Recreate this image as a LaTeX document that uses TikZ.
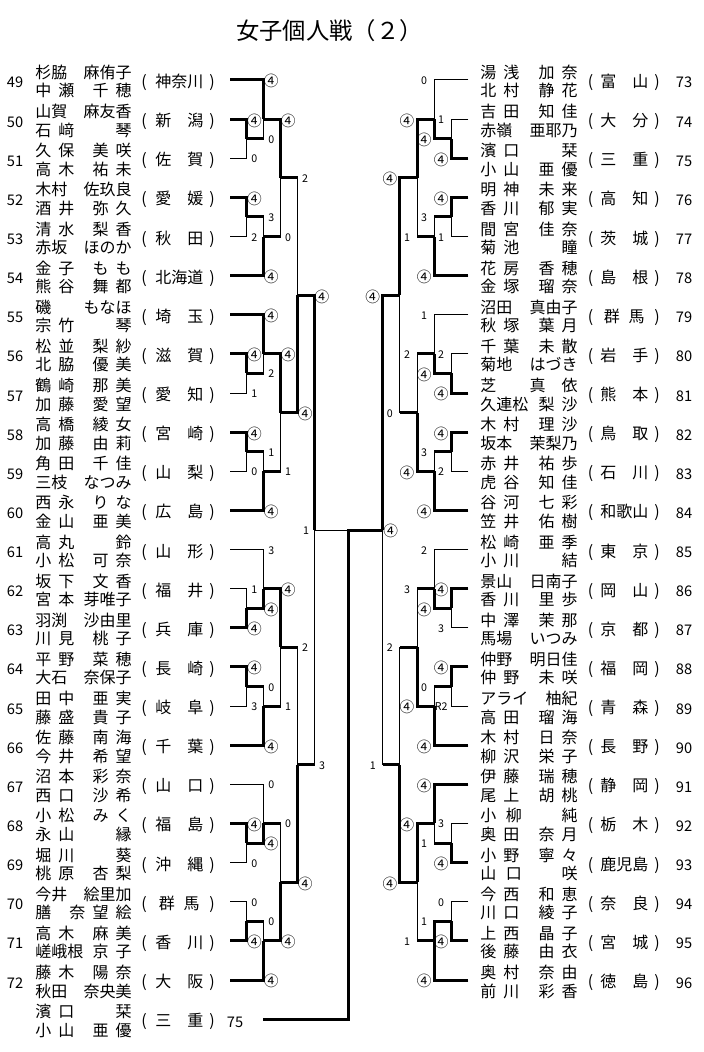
\documentclass[tikz,border=0pt]{standalone}
\usepackage{fontspec}
\setmainfont{Noto Sans CJK JP}
\newcommand\namefont{\fontsize{12}{12}\selectfont\spaceskip=.45em\relax}
\newcommand\ci{\raisebox{-1.8pt}{\fontsize{11}{11}\selectfont ④}}
\begin{document}
\begin{tikzpicture}[x=0.75pt,y=-0.75pt,
    declare function={ry(\x)=80+19.565*\x; lx(\x)=230+16.9*\x; rx(\x)=468.3-17.1*\x;},
    lose/.style={line width=0.75pt},
    win/.style={line width=2.25pt,line cap=square},
    nm/.style={inner sep=0pt,font=\namefont},
    num/.style={inner sep=0pt,anchor=base,font=\fontsize{11}{11}\selectfont},
    sc/.style={inner sep=0pt,anchor=base,font=\fontsize{8}{8}\selectfont}]
\useasboundingbox (0,0) rectangle (703,1052);
\fill[white] (0,0) rectangle (703,1052);
\node[inner sep=0pt,anchor=base west,font=\fontsize{17.5}{17.5}\selectfont] (title) at (236,40) {女子個人戦（２）};

% left entries
\foreach \n/\sa/\ga/\sb/\gb/\p [count=\k from 0] in {
    49/杉脇/麻侑子/中 瀬/千 穂/神奈川,
    50/山賀/麻友香/石 﨑/琴/新\hfill 潟,
    51/久 保/美 咲/高 木/祐 未/佐\hfill 賀,
    52/木村/佐玖良/酒 井/弥 久/愛\hfill 媛,
    53/清 水/梨 香/赤坂/ほのか/秋\hfill 田,
    54/金 子/も も/熊 谷/舞 都/北海道,
    55/磯/もなほ/宗 竹/琴/埼\hfill 玉,
    56/松 並/梨 紗/北 脇/優 美/滋\hfill 賀,
    57/鶴 崎/那 美/加 藤/愛 望/愛\hfill 知,
    58/高 橋/綾 女/加 藤/由 莉/宮\hfill 崎,
    59/角 田/千 佳/三枝/なつみ/山\hfill 梨,
    60/西 永/り な/金 山/亜 美/広\hfill 島,
    61/高 丸/鈴/小 松/可 奈/山\hfill 形,
    62/坂 下/文 香/宮 本/芽唯子/福\hfill 井,
    63/羽渕/沙由里/川 見/桃 子/兵\hfill 庫,
    64/平 野/菜 穂/大石/奈保子/長\hfill 崎,
    65/田 中/亜 実/藤 盛/貴 子/岐\hfill 阜,
    66/佐 藤/南 海/今 井/希 望/千\hfill 葉,
    67/沼 本/彩 奈/西 口/沙 希/山\hfill 口,
    68/小 松/み く/永 山/縁/福\hfill 島,
    69/堀 川/葵/桃 原/杏 梨/沖\hfill 縄,
    70/今井/絵里加/膳/奈 望 絵/\hfill 群\hspace{.55em}馬\hfill,
    71/高 木/麻 美/嵯峨根/京 子/香\hfill 川,
    72/藤 木/陽 奈/秋田/奈央美/大\hfill 阪}{
  \pgfmathsetmacro\yy{ry(2*\k)}
  \node[num] (n\n) at (15,\yy+8) {\n};
  \node[nm,anchor=base west] (sa\n) at (35,\yy-1.5) {\sa};
  \node[nm,anchor=base east] (ga\n) at (132,\yy-1.5) {\ga};
  \node[nm,anchor=base west] (sb\n) at (35,\yy+17) {\sb};
  \node[nm,anchor=base east] (gb\n) at (132,\yy+17) {\gb};
  \node[nm,anchor=base] (po\n) at (144,\yy+7.5) {(};
  \node[nm,anchor=base west] (p\n) at (155,\yy+7.5) {\makebox[3em][s]{\p}};
  \node[nm,anchor=base] (pc\n) at (212,\yy+7.5) {)};
}
\node[nm,anchor=base west] (csa) at (35,{ry(48)-1.5}) {濱 口};
\node[nm,anchor=base east] (cga) at (132,{ry(48)-1.5}) {栞};
\node[nm,anchor=base west] (csb) at (35,{ry(48)+17}) {小 山};
\node[nm,anchor=base east] (cgb) at (132,{ry(48)+17}) {亜 優};
\node[nm,anchor=base] (cpo) at (144,{ry(48)+7.5}) {(};
\node[nm,anchor=base west] (cp) at (155,{ry(48)+7.5}) {\makebox[3em][s]{三\hfill 重}};
\node[nm,anchor=base] (cpc) at (212,{ry(48)+7.5}) {)};
\node[num] (cn) at (235,{ry(48)+8}) {75};

% right entries
\foreach \n/\sa/\ga/\sb/\gb/\p [count=\k from 0] in {
    73/湯 浅/加 奈/北 村/静 花/富\hfill 山,
    74/吉 田/知 佳/赤嶺/亜耶乃/大\hfill 分,
    75/濱 口/栞/小 山/亜 優/三\hfill 重,
    76/明 神/未 来/香 川/郁 実/高\hfill 知,
    77/間 宮/佳 奈/菊 池/瞳/茨\hfill 城,
    78/花 房/香 穂/金 塚/瑠 奈/島\hfill 根,
    79/沼田/真由子/秋 塚/葉 月/\hfill 群\hspace{.55em}馬\hfill,
    80/千 葉/未 散/菊地/はづき/岩\hfill 手,
    81/芝/真　依/久連松/梨 沙/熊\hfill 本,
    82/木 村/理 沙/坂本/茉梨乃/鳥\hfill 取,
    83/赤 井/祐 歩/虎 谷/知 佳/石\hfill 川,
    84/谷 河/七 彩/笠 井/佑 樹/和歌山,
    85/松 崎/亜 季/小 川/結/東\hfill 京,
    86/景山/日南子/香 川/里 歩/岡\hfill 山,
    87/中 澤/茉 那/馬場/いつみ/京\hfill 都,
    88/仲野/明日佳/仲 野/未 咲/福\hfill 岡,
    89/アライ/柚紀/高 田/瑠 海/青\hfill 森,
    90/木 村/日 奈/柳 沢/栄 子/長\hfill 野,
    91/伊 藤/瑞 穂/尾 上/胡 桃/静\hfill 岡,
    92/小\hspace{.6em}柳/純/奥 田/奈 月/栃\hfill 木,
    93/小 野/寧 々/山\hspace{.6em}口/咲/鹿児島,
    94/今 西/和 恵/川 口/綾 子/奈\hfill 良,
    95/上 西/晶 子/後 藤/由 衣/宮\hfill 城,
    96/奥 村/奈 由/前 川/彩 香/徳\hfill 島}{
  \pgfmathsetmacro\yy{ry(2*\k)}
  \node[num] (n\n) at (684,\yy+8) {\n};
  \node[nm,anchor=base west] (sa\n) at (480,\yy-1.5) {\sa};
  \node[nm,anchor=base east] (ga\n) at (578,\yy-1.5) {\ga};
  \node[nm,anchor=base west] (sb\n) at (480,\yy+17) {\sb};
  \node[nm,anchor=base east] (gb\n) at (578,\yy+17) {\gb};
  \node[nm,anchor=base] (po\n) at (590.5,\yy+7.5) {(};
  \node[nm,anchor=base west] (p\n) at (600,\yy+7.5) {\makebox[3em][s]{\p}};
  \node[nm,anchor=base] (pc\n) at (657,\yy+7.5) {)};
}

% left bracket
\foreach \cf/\rr/\ct/\rj/\ww/\lab [count=\i] in {
    0/2/1/3/2/\ci, 0/4/1/3/0/0, 0/0/2/2/2/\ci, 1/3/2/2/1/0,
    0/6/1/7/2/\ci, 0/8/1/7/0/2, 1/7/2/8/1/3, 0/10/2/8/2/\ci,
    2/2/3/5/2/\ci, 2/8/3/5/1/0,
    0/14/1/15/2/\ci, 0/16/1/15/0/1, 0/12/2/14/2/\ci, 1/15/2/14/1/2,
    0/18/1/19/2/\ci, 0/20/1/19/0/0, 1/19/2/20/1/1, 0/22/2/20/2/\ci,
    2/14/3/17/2/\ci, 2/20/3/17/1/1,
    3/5/4/11/1/2, 3/17/4/11/2/\ci,
    0/26/1/27/0/1, 0/28/1/27/2/\ci, 0/24/2/26/0/3, 1/27/2/26/2/\ci,
    0/30/1/31/2/\ci, 0/32/1/31/0/3, 1/31/2/32/1/0, 0/34/2/32/2/\ci,
    2/26/3/29/2/\ci, 2/32/3/29/1/1,
    0/38/1/39/2/\ci, 0/40/1/39/0/0, 0/36/2/38/0/0, 1/39/2/38/2/\ci,
    0/42/1/43/0/0, 0/44/1/43/2/\ci, 1/43/2/44/1/0, 0/46/2/44/2/\ci,
    2/38/3/41/1/0, 2/44/3/41/2/\ci,
    3/29/4/35/1/2, 3/41/4/35/2/\ci,
    4/11/5/23/2/\ci, 4/35/5/23/1/3}{
  \draw[lose] ({lx(\cf)},{ry(\rr)}) -| ({lx(\ct)},{ry(\rj)});
  \ifnum\ww=1 \draw[win] ({lx(\cf)},{ry(\rr)}) -- ({lx(\ct)},{ry(\rr)}); \fi
  \ifnum\ww=2 \draw[win] ({lx(\cf)},{ry(\rr)}) -| ({lx(\ct)},{ry(\rj)}); \fi
  \node[sc] (ls\i) at ({lx(\ct)+7.5},{ry(\rr)+4.5}) {\lab};
}

% right bracket
\foreach \cf/\rr/\ct/\rj/\ww/\lab [count=\i] in {
    0/2/1/3/0/1, 0/4/1/3/2/\ci, 0/0/2/2/0/0, 1/3/2/2/2/\ci,
    0/6/1/7/2/\ci, 0/8/1/7/0/1, 1/7/2/8/1/3, 0/10/2/8/2/\ci,
    2/2/3/5/2/\ci, 2/8/3/5/1/1,
    0/14/1/15/0/2, 0/16/1/15/2/\ci, 0/12/2/14/0/1, 1/15/2/14/2/\ci,
    0/18/1/19/2/\ci, 0/20/1/19/0/2, 1/19/2/20/1/3, 0/22/2/20/2/\ci,
    2/14/3/17/1/2, 2/20/3/17/2/\ci,
    3/5/4/11/2/\ci, 3/17/4/11/1/0,
    0/26/1/27/2/\ci, 0/28/1/27/0/3, 0/24/2/26/0/2, 1/27/2/26/2/\ci,
    0/30/1/31/2/\ci, 0/32/1/31/0/R2, 1/31/2/32/1/0, 0/34/2/32/2/\ci,
    2/26/3/29/1/3, 2/32/3/29/2/\ci,
    0/38/1/39/0/3, 0/40/1/39/2/\ci, 0/36/2/38/2/\ci, 1/39/2/38/1/1,
    0/42/1/43/0/0, 0/44/1/43/2/\ci, 1/43/2/44/2/1, 0/46/2/44/2/\ci,
    2/38/3/41/2/\ci, 2/44/3/41/1/1,
    3/29/4/35/1/2, 3/41/4/35/2/\ci,
    4/11/5/23/2/\ci, 4/35/5/23/1/1}{
  \draw[lose] ({rx(\cf)},{ry(\rr)}) -| ({rx(\ct)},{ry(\rj)});
  \ifnum\ww=1 \draw[win] ({rx(\cf)},{ry(\rr)}) -- ({rx(\ct)},{ry(\rr)}); \fi
  \ifnum\ww=2 \draw[win] ({rx(\cf)},{ry(\rr)}) -| ({rx(\ct)},{ry(\rj)}); \fi
  \node[sc] (rs\i) at ({rx(\ct)-10},{ry(\rr)+4.5}) {\lab};
}

% final
\coordinate (fin) at (348.3,{ry(23)});
\coordinate (champ) at (263,{ry(48)});
\draw[lose] ({lx(5)},{ry(23)}) -- (fin);
\draw[win] ({rx(5)},{ry(23)}) -- (fin) |- (champ);
\node[sc] (fl) at ({lx(5)-8.5},{ry(23)+4.5}) {1};
\node[sc] (fr) at ({rx(5)+8},{ry(23)+4.5}) {\ci};
\end{tikzpicture}
\end{document}
